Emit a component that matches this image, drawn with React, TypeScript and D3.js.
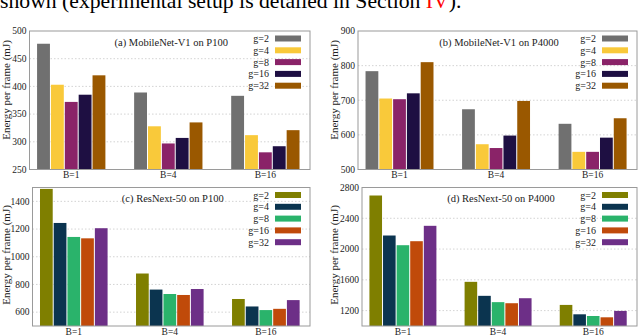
import React, { useRef, useEffect } from "react";
import * as d3 from "d3";

// batch sizes and group counts
const batches = ["B=1", "B=4", "B=16"];
const groupLabels = ["g=2", "g=4", "g=8", "g=16", "g=32"];

// energy per frame (mJ), one row per batch size, one value per g
const mobileP100 = [
  [477, 403, 372, 385, 420],
  [389, 328, 297, 307, 335],
  [383, 312, 281, 292, 321],
];
const mobileP4000 = [
  [784, 705, 703, 720, 810],
  [674, 573, 562, 598, 698],
  [632, 551, 551, 592, 648],
];
const resnextP100 = [
  [1490, 1244, 1143, 1133, 1206],
  [879, 763, 731, 724, 767],
  [695, 641, 615, 624, 687],
];
const resnextP4000 = [
  [2696, 2176, 2050, 2102, 2302],
  [1574, 1392, 1310, 1296, 1361],
  [1274, 1152, 1130, 1113, 1196],
];

const ticksA = [250, 300, 350, 400, 450, 500];
const ticksB = [500, 600, 700, 800, 900];
const ticksC = [600, 800, 1000, 1200, 1400];
const ticksD = [1200, 1600, 2000, 2400, 2800];

const mobileColors = ["#707070", "#f9c93a", "#8a2368", "#1e0f42", "#9a5800"];
const resnextColors = ["#7f7f00", "#0b344f", "#2ab36b", "#c04a0a", "#6d2f87"];

const panels = [
  { title: "(a) MobileNet-V1 on P100", data: mobileP100, yDomain: [250, 500], ticks: ticksA, colors: mobileColors,
    x0: 29.5, x1: 310, y0: 31, y1: 169.5, ylabX: 6, ylabY: 90 },
  { title: "(b) MobileNet-V1 on P4000", data: mobileP4000, yDomain: [500, 900], ticks: ticksB, colors: mobileColors,
    x0: 358, x1: 637, y0: 31, y1: 169.5, ylabX: 334, ylabY: 90 },
  { title: "(c) ResNext-50 on P100", data: resnextP100, yDomain: [500, 1500], ticks: ticksC, colors: resnextColors,
    x0: 32.5, x1: 310, y0: 187.5, y1: 326, ylabX: 6, ylabY: 255 },
  { title: "(d) ResNext-50 on P4000", data: resnextP4000, yDomain: [1000, 2800], ticks: ticksD, colors: resnextColors,
    x0: 362, x1: 637, y0: 187.5, y1: 326, ylabX: 334, ylabY: 255 },
];

const FONT = "'Liberation Serif', 'Times New Roman', serif";

const App = () => {
  const ref = useRef(null);

  useEffect(() => {
    document.body.style.margin = "0";
    const svg = d3.select(ref.current);
    svg.selectAll("*").remove();

    // header text cut off at the top
    const head = svg
      .append("text")
      .attr("x", 0)
      .attr("y", 7.5)
      .attr("font-family", FONT)
      .attr("font-size", 21.7)
      .attr("fill", "#000");
    head.append("tspan").text("shown (experimental setup is detailed in Section ");
    head.append("tspan").attr("fill", "#ff0000").text("IV");
    head.append("tspan").text(").");

    panels.forEach((p) => {
      const g = svg.append("g");
      const x = d3.scaleLinear().domain([-0.43, 2.46]).range([p.x0, p.x1]);
      const y = d3.scaleLinear().domain(p.yDomain).range([p.y1, p.y0]);
      const unit = x(1) - x(0);
      const bw = unit / 7;

      // grid
      g.append("g")
        .selectAll("line")
        .data(p.ticks.filter((t) => t > p.yDomain[0] && t < p.yDomain[1]))
        .join("line")
        .attr("x1", p.x0)
        .attr("x2", p.x1)
        .attr("y1", (d) => y(d))
        .attr("y2", (d) => y(d))
        .attr("stroke", "#c8c8c8")
        .attr("stroke-width", 0.8)
        .attr("stroke-dasharray", "1.5,2");

      // bars
      p.data.forEach((row, j) => {
        g.append("g")
          .selectAll("rect")
          .data(row)
          .join("rect")
          .attr("x", (d, i) => x(j) + (i - 2.5) * bw + 0.5)
          .attr("y", (d) => y(d))
          .attr("width", bw - 1)
          .attr("height", (d) => y(p.yDomain[0]) - y(d))
          .attr("fill", (d, i) => p.colors[i]);
      });

      // frame
      g.append("rect")
        .attr("x", p.x0)
        .attr("y", p.y0)
        .attr("width", p.x1 - p.x0)
        .attr("height", p.y1 - p.y0)
        .attr("fill", "none")
        .attr("stroke", "#9a9a9a")
        .attr("stroke-width", 1);

      // y tick labels
      g.append("g")
        .selectAll("text")
        .data(p.ticks)
        .join("text")
        .attr("x", p.x0 - 3)
        .attr("y", (d) => y(d) + 3.3)
        .attr("text-anchor", "end")
        .attr("font-family", FONT)
        .attr("font-size", 9.5)
        .attr("fill", "#222")
        .text((d) => d);

      // x labels
      g.append("g")
        .selectAll("text")
        .data(batches)
        .join("text")
        .attr("x", (d, j) => x(j))
        .attr("y", p.y1 + 8.5)
        .attr("text-anchor", "middle")
        .attr("font-family", FONT)
        .attr("font-size", 9.5)
        .attr("fill", "#222")
        .text((d) => d);

      // y axis title
      g.append("text")
        .attr("transform", `translate(${p.ylabX + 3.5},${p.ylabY}) rotate(-90)`)
        .attr("text-anchor", "middle")
        .attr("font-family", FONT)
        .attr("font-size", 11)
        .attr("fill", "#222")
        .text("Energy per frame (mJ)");

      // title
      g.append("text")
        .attr("x", (p.x0 + p.x1) / 2 + 1.5)
        .attr("y", p.y0 + 14.5)
        .attr("text-anchor", "middle")
        .attr("font-family", FONT)
        .attr("font-size", 10.5)
        .attr("fill", "#222")
        .text(p.title);

      // legend
      const leg = g
        .append("g")
        .selectAll("g")
        .data(groupLabels)
        .join("g")
        .attr("transform", (d, i) => `translate(0,${p.y0 + 7.5 + i * 11.8})`);
      leg.append("rect")
        .attr("x", p.x1 - 35)
        .attr("y", -3)
        .attr("width", 26)
        .attr("height", 6)
        .attr("fill", (d, i) => p.colors[i]);
      leg.append("text")
        .attr("x", p.x1 - 41)
        .attr("y", 3.5)
        .attr("text-anchor", "end")
        .attr("font-family", FONT)
        .attr("font-size", 10)
        .attr("fill", "#222")
        .text((d) => d);
    });
  }, []);

  return <svg ref={ref} width={640} height={336} style={{ display: "block", background: "#fff" }}></svg>;
};

export default App;
